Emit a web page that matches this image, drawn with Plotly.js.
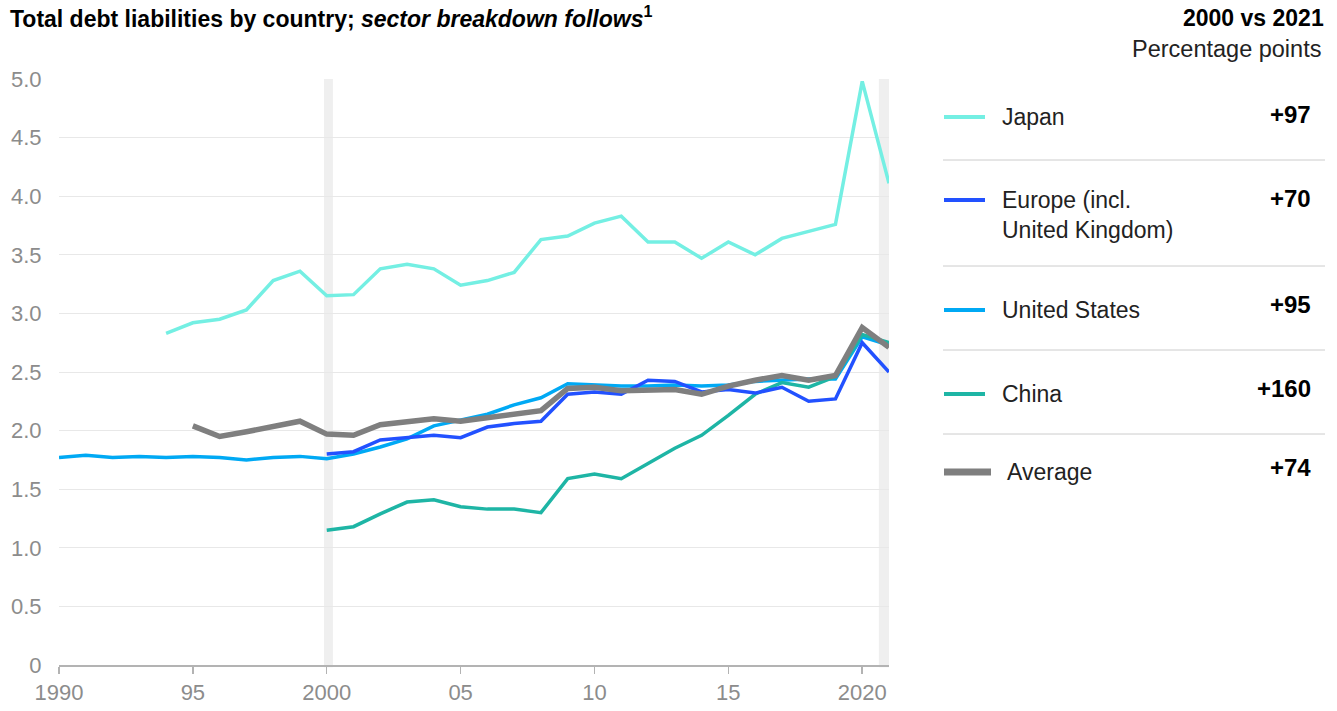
<!DOCTYPE html>
<html>
<head>
<meta charset="utf-8">
<script src="https://cdn.plot.ly/plotly-3.0.1.min.js"></script>
<style>
  html, body { margin: 0; padding: 0; background: #fff; }
  #chart { width: 1337px; height: 711px; }
</style>
</head>
<body>
<div id="chart"></div>
<script>
// ---- Data ----
const japanYears = [1994,1995,1996,1997,1998,1999,2000,2001,2002,2003,2004,2005,2006,2007,2008,2009,2010,2011,2012,2013,2014,2015,2016,2017,2018,2019,2020,2021];
const japanVals  = [2.83,2.92,2.95,3.03,3.28,3.36,3.15,3.16,3.38,3.42,3.38,3.24,3.28,3.35,3.63,3.66,3.77,3.83,3.61,3.61,3.47,3.61,3.50,3.64,3.70,3.76,4.98,4.11];

const europeYears = [2000,2001,2002,2003,2004,2005,2006,2007,2008,2009,2010,2011,2012,2013,2014,2015,2016,2017,2018,2019,2020,2021];
const europeVals  = [1.80,1.82,1.92,1.94,1.96,1.94,2.03,2.06,2.08,2.31,2.33,2.31,2.43,2.42,2.33,2.35,2.32,2.37,2.25,2.27,2.75,2.50];

const usYears = [1990,1991,1992,1993,1994,1995,1996,1997,1998,1999,2000,2001,2002,2003,2004,2005,2006,2007,2008,2009,2010,2011,2012,2013,2014,2015,2016,2017,2018,2019,2020,2021];
const usVals  = [1.77,1.79,1.77,1.78,1.77,1.78,1.77,1.75,1.77,1.78,1.76,1.80,1.86,1.93,2.04,2.09,2.14,2.22,2.28,2.40,2.39,2.38,2.38,2.39,2.38,2.39,2.42,2.43,2.44,2.44,2.80,2.73];

const chinaYears = [2000,2001,2002,2003,2004,2005,2006,2007,2008,2009,2010,2011,2012,2013,2014,2015,2016,2017,2018,2019,2020,2021];
const chinaVals  = [1.15,1.18,1.29,1.39,1.41,1.35,1.33,1.33,1.30,1.59,1.63,1.59,1.72,1.85,1.96,2.13,2.31,2.41,2.37,2.46,2.82,2.75];

const avgYears = [1995,1996,1997,1998,1999,2000,2001,2002,2003,2004,2005,2006,2007,2008,2009,2010,2011,2012,2013,2014,2015,2016,2017,2018,2019,2020,2021];
const avgVals  = [2.04,1.95,1.99,2.04,2.08,1.97,1.96,2.05,2.07,2.10,2.08,2.11,2.13,2.17,2.36,2.37,2.34,2.35,2.35,2.31,2.38,2.43,2.47,2.43,2.47,2.88,2.71];

const legendNames  = ["Japan", "Europe (incl.<br>United Kingdom)", "United States", "China", "Average"];
const legendValues = ["+97", "+70", "+95", "+160", "+74"];

const xTickVals = [1990,1995,2000,2005,2010,2015,2020];
const xTickText = ["1990","95","2000","05","10","15","2020"];
const yTickVals = [0,0.5,1,1.5,2,2.5,3,3.5,4,4.5,5];
const yTickText = ["0","0.5","1.0","1.5","2.0","2.5","3.0","3.5","4.0","4.5","5.0"];

const colors = {
  japan: "#74EFE3",
  europe: "#2251FF",
  us: "#00A9F4",
  china: "#1EB5A5",
  avg: "#7F7F7F"
};

// ---- Geometry helpers ----
const W = 1337, H = 711;
const mL = 59, mR = W - 889, mT = 79, mB = H - 665;
const plotW = W - mL - mR, plotH = H - mT - mB;
const px = x => (x - mL) / plotW;           // pixel -> paper x
const py = y => (H - mB - y) / plotH;       // pixel -> paper y

const traces = [
  {x: usYears, y: usVals, mode: "lines", line: {color: colors.us, width: 3.5}, name: "United States"},
  {x: chinaYears, y: chinaVals, mode: "lines", line: {color: colors.china, width: 3.5}, name: "China"},
  {x: europeYears, y: europeVals, mode: "lines", line: {color: colors.europe, width: 3.5}, name: "Europe"},
  {x: japanYears, y: japanVals, mode: "lines", line: {color: colors.japan, width: 3.5}, name: "Japan"},
  {x: avgYears, y: avgVals, mode: "lines", line: {color: colors.avg, width: 5.5}, name: "Average"}
];

const textFont = "Liberation Sans, Arial, sans-serif";
const shapes = [
  // highlight bands
  {type: "rect", xref: "x", yref: "paper", x0: 1999.9, x1: 2000.23, y0: -0.004, y1: 1, fillcolor: "#efefef", line: {width: 0}, layer: "below"},
  {type: "rect", xref: "x", yref: "paper", x0: 2020.62, x1: 2021, y0: -0.004, y1: 1, fillcolor: "#efefef", line: {width: 0}, layer: "below"}
];
const annotations = [];

// legend panel
const legendColors = [colors.japan, colors.europe, colors.us, colors.china, colors.avg];
const lineY = [117, 200, 310, 394, 472];
const valY  = [114, 198, 304, 388, 467];
const sepY  = [160, 266, 350, 434];
sepY.forEach(y => shapes.push({type: "line", xref: "paper", yref: "paper", x0: px(943), x1: px(1325), y0: py(y), y1: py(y), line: {color: "#cccccc", width: 1}}));
legendNames.forEach((n, i) => {
  const isAvg = i === 4;
  shapes.push({type: "line", xref: "paper", yref: "paper",
    x0: px(isAvg ? 944 : 944), x1: px(isAvg ? 991 : 985), y0: py(lineY[i]), y1: py(lineY[i]),
    line: {color: legendColors[i], width: isAvg ? 7 : 4}});
  const multi = n.indexOf("<br>") >= 0;
  annotations.push({xref: "paper", yref: "paper", x: px(isAvg ? 1005 : 1000), y: py(multi ? 215 : lineY[i]),
    xanchor: "left", yanchor: "middle", align: "left", showarrow: false, text: n,
    font: {family: textFont, size: 23, color: "#222222"}});
  annotations.push({xref: "paper", yref: "paper", x: px(1313), y: py(valY[i]),
    xanchor: "right", yanchor: "middle", showarrow: false, text: "<b>" + legendValues[i] + "</b>",
    font: {family: textFont, size: 24, color: "#000000"}});
});
annotations.push({xref: "paper", yref: "paper", x: px(1326), y: py(18), xanchor: "right", yanchor: "middle", showarrow: false,
  text: "<b>2000 vs 2021</b>", font: {family: textFont, size: 23, color: "#000000"}});
annotations.push({xref: "paper", yref: "paper", x: px(1323), y: py(49), xanchor: "right", yanchor: "middle", showarrow: false,
  text: "Percentage points", font: {family: textFont, size: 23.5, color: "#222222"}});

const layout = {
  width: W, height: H,
  margin: {l: mL, r: mR, t: mT, b: mB, pad: 0},
  paper_bgcolor: "#ffffff", plot_bgcolor: "#ffffff",
  showlegend: false,
  title: {
    text: "<b>Total debt liabilities by country; <i>sector breakdown follows</i><sup>1</sup></b>",
    xref: "container", yref: "container", x: 10 / W, xanchor: "left", y: 1 - 19 / H, yanchor: "middle",
    font: {family: textFont, size: 23, color: "#000000"}
  },
  xaxis: {
    range: [1990, 2021], tickmode: "array", tickvals: xTickVals, ticktext: xTickText,
    showgrid: false, zeroline: false, showline: true, linecolor: "#b3b3b3", linewidth: 2,
    ticks: "outside", ticklen: 7, tickwidth: 1.5, tickcolor: "#b3b3b3",
    tickfont: {family: textFont, size: 22, color: "#8c8c8c"}, fixedrange: true
  },
  yaxis: {
    range: [0, 5], tickmode: "array", tickvals: yTickVals, ticktext: yTickText,
    showgrid: true, gridcolor: "#e8e8e8", gridwidth: 1, zeroline: false, showline: false,
    ticks: "outside", ticklen: 12, tickcolor: "rgba(0,0,0,0)",
    tickfont: {family: textFont, size: 22, color: "#8c8c8c"}, fixedrange: true
  },
  shapes: shapes,
  annotations: annotations
};

Plotly.newPlot("chart", traces, layout, {displayModeBar: false, staticPlot: true});
</script>
</body>
</html>
